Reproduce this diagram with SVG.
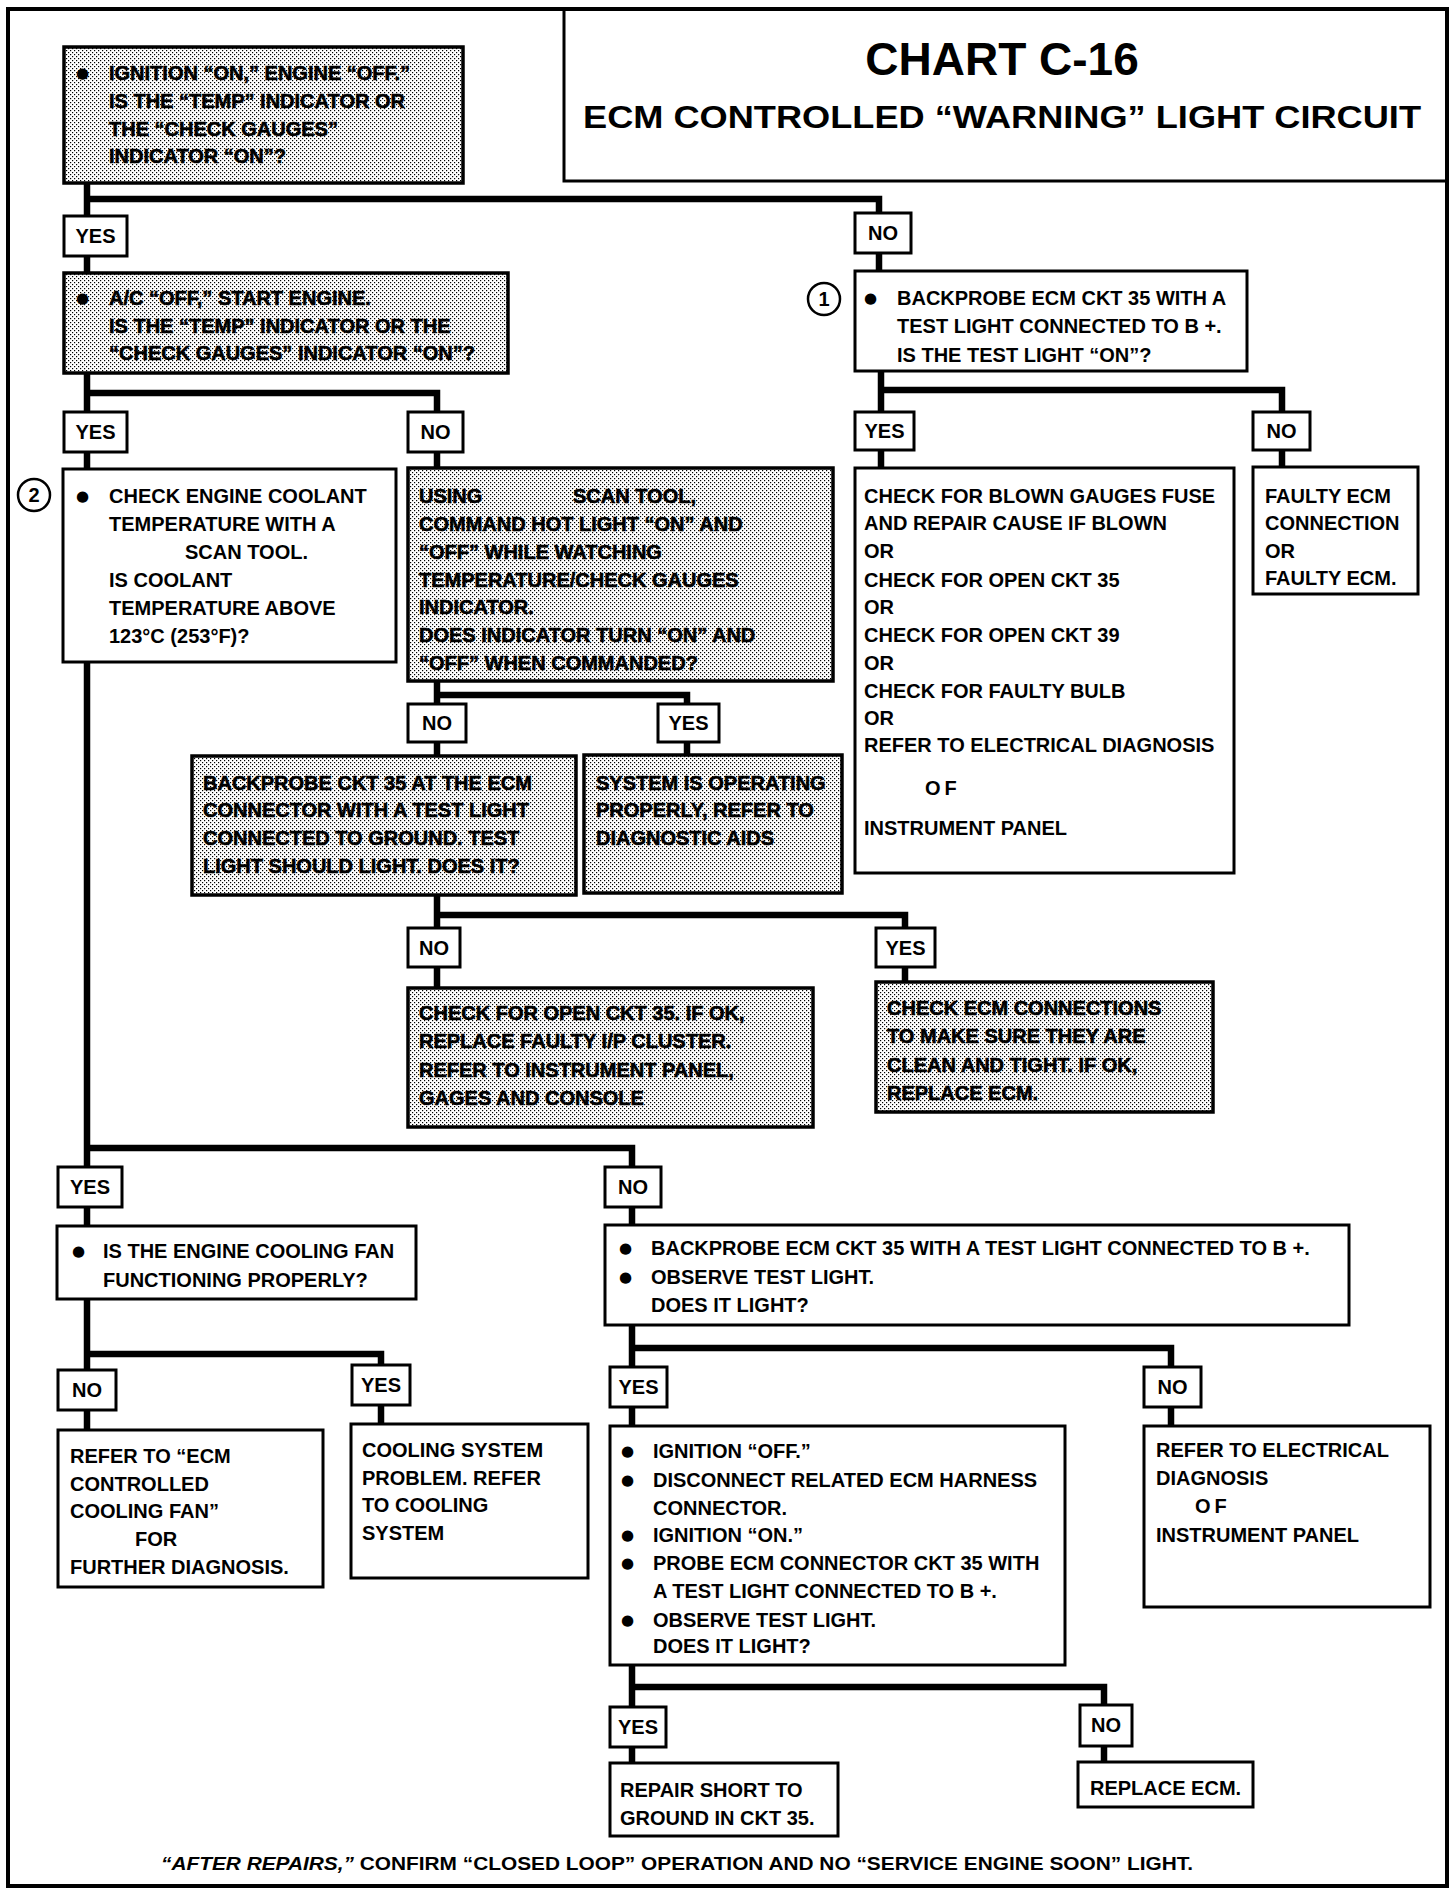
<svg xmlns="http://www.w3.org/2000/svg" width="1456" height="1892" viewBox="0 0 1456 1892">
<defs>
<pattern id="dots" width="4" height="4" patternUnits="userSpaceOnUse">
<rect width="4" height="4" fill="#fff"/>
<rect x="0" y="0" width="1.2" height="1.2" fill="#000"/>
<rect x="2" y="2" width="1.2" height="1.2" fill="#000"/>
</pattern>
</defs>
<style>
.box{fill:#fff;stroke:#000;stroke-width:3}
.shade{fill:url(#dots);stroke:#000;stroke-width:3.5}
.lbl{fill:#fff;stroke:#000;stroke-width:3}
.t{font-family:"Liberation Sans",Arial,sans-serif;font-weight:bold;font-size:20px;fill:#000}
.ts{font-family:"Liberation Sans",Arial,sans-serif;font-weight:bold;font-size:20px;fill:#000;stroke:#000;stroke-width:0.6}
.b{font-family:"DejaVu Sans",sans-serif;font-size:15px;fill:#000}
.lt{font-family:"Liberation Sans",Arial,sans-serif;font-weight:bold;font-size:20px;fill:#000;text-anchor:middle}
.conn{fill:none;stroke:#000;stroke-width:6.5;stroke-linejoin:miter;stroke-linecap:square}
.circ{fill:#fff;stroke:#000;stroke-width:2.5}
</style>
<rect width="1456" height="1892" fill="#fff"/>
<g id="frame">
<rect x="8" y="9" width="1439" height="1877" fill="none" stroke="#000" stroke-width="4"/>
</g>
<g id="title">
<path d="M564,9 V181 H1447" fill="none" stroke="#000" stroke-width="3"/>
<text x="1002" y="75" text-anchor="middle" font-family="Liberation Sans, Arial, sans-serif" font-weight="bold" font-size="46">CHART C-16</text>
<text x="1002" y="128" text-anchor="middle" font-family="Liberation Sans, Arial, sans-serif" font-weight="bold" font-size="31" textLength="838" lengthAdjust="spacingAndGlyphs">ECM CONTROLLED “WARNING” LIGHT CIRCUIT</text>
</g>
<g id="connectors">
<path class="conn" d="M87,183 V216 M87,199 H879 V213"/>
<path class="conn" d="M87,256 V273 M879,253 V271"/>
<path class="conn" d="M87,373 V412 M87,393 H437 V412"/>
<path class="conn" d="M87,452 V469 M437,452 V468"/>
<path class="conn" d="M87,662 V1167 M87,1148 H632 V1167"/>
<path class="conn" d="M437,681 V704 M437,695 H687 V704"/>
<path class="conn" d="M437,742 V756 M687,742 V755"/>
<path class="conn" d="M437,895 V928 M437,915 H905 V928"/>
<path class="conn" d="M437,967 V988 M905,967 V982"/>
<path class="conn" d="M881,371 V412 M881,390 H1282 V412"/>
<path class="conn" d="M881,450 V468 M1282,450 V467"/>
<path class="conn" d="M87,1207 V1226 M632,1207 V1225"/>
<path class="conn" d="M87,1299 V1370 M87,1354 H381 V1365"/>
<path class="conn" d="M87,1410 V1430 M381,1405 V1424"/>
<path class="conn" d="M632,1325 V1367 M632,1348 H1171 V1367"/>
<path class="conn" d="M632,1407 V1426 M1171,1407 V1426"/>
<path class="conn" d="M632,1665 V1707 M632,1687 H1104 V1705"/>
<path class="conn" d="M632,1747 V1763 M1104,1746 V1762"/>
</g>
<g id="nodeA">
<rect class="shade" x="64" y="47" width="399" height="136"/>
<text class="b" x="76" y="78">●</text>
<text class="ts" x="109" y="80">IGNITION “ON,” ENGINE “OFF.”</text>
<text class="ts" x="109" y="108">IS THE “TEMP” INDICATOR OR</text>
<text class="ts" x="109" y="136">THE “CHECK GAUGES”</text>
<text class="ts" x="109" y="163">INDICATOR “ON”?</text>
</g>
<g id="nodeB">
<rect class="shade" x="64" y="273" width="444" height="100"/>
<text class="b" x="76" y="303">●</text>
<text class="ts" x="109" y="305">A/C “OFF,” START ENGINE.</text>
<text class="ts" x="109" y="333">IS THE “TEMP” INDICATOR OR THE</text>
<text class="ts" x="109" y="360">“CHECK GAUGES” INDICATOR “ON”?</text>
</g>
<g id="nodeC">
<circle class="circ" cx="34" cy="495" r="16"/>
<text class="lt" x="34" y="502">2</text>
<rect class="box" x="63" y="469" width="333" height="193"/>
<text class="b" x="76" y="501">●</text>
<text class="t" x="109" y="503">CHECK ENGINE COOLANT</text>
<text class="t" x="109" y="531">TEMPERATURE WITH A</text>
<text class="t" x="185" y="559">SCAN TOOL.</text>
<text class="t" x="109" y="587">IS COOLANT</text>
<text class="t" x="109" y="615">TEMPERATURE ABOVE</text>
<text class="t" x="109" y="643">123°C (253°F)?</text>
</g>
<g id="nodeD">
<rect class="shade" x="408" y="468" width="425" height="213"/>
<text class="ts" x="419" y="503">USING</text>
<text class="ts" x="573" y="503">SCAN TOOL,</text>
<text class="ts" x="419" y="531">COMMAND HOT LIGHT “ON” AND</text>
<text class="ts" x="419" y="559">“OFF” WHILE WATCHING</text>
<text class="ts" x="419" y="587">TEMPERATURE/CHECK GAUGES</text>
<text class="ts" x="419" y="614">INDICATOR.</text>
<text class="ts" x="419" y="642">DOES INDICATOR TURN “ON” AND</text>
<text class="ts" x="419" y="670">“OFF” WHEN COMMANDED?</text>
</g>
<g id="nodeE">
<rect class="shade" x="192" y="756" width="384" height="139"/>
<text class="ts" x="203" y="790">BACKPROBE CKT 35 AT THE ECM</text>
<text class="ts" x="203" y="817">CONNECTOR WITH A TEST LIGHT</text>
<text class="ts" x="203" y="845">CONNECTED TO GROUND.  TEST</text>
<text class="ts" x="203" y="873">LIGHT SHOULD LIGHT.  DOES IT?</text>
</g>
<g id="nodeF">
<rect class="shade" x="584" y="755" width="258" height="138"/>
<text class="ts" x="596" y="790">SYSTEM IS OPERATING</text>
<text class="ts" x="596" y="817">PROPERLY, REFER TO</text>
<text class="ts" x="596" y="845">DIAGNOSTIC AIDS</text>
</g>
<g id="nodeG">
<rect class="shade" x="408" y="988" width="405" height="139"/>
<text class="ts" x="419" y="1020">CHECK FOR OPEN CKT 35.  IF OK,</text>
<text class="ts" x="419" y="1048">REPLACE FAULTY I/P CLUSTER.</text>
<text class="ts" x="419" y="1077">REFER TO INSTRUMENT PANEL,</text>
<text class="ts" x="419" y="1105">GAGES AND CONSOLE</text>
</g>
<g id="nodeH">
<rect class="shade" x="876" y="982" width="337" height="130"/>
<text class="ts" x="887" y="1015">CHECK ECM CONNECTIONS</text>
<text class="ts" x="887" y="1043">TO MAKE SURE THEY ARE</text>
<text class="ts" x="887" y="1072">CLEAN AND TIGHT.  IF OK,</text>
<text class="ts" x="887" y="1100">REPLACE ECM.</text>
</g>
<g id="nodeI">
<circle class="circ" cx="824" cy="299" r="16"/>
<text class="lt" x="824" y="306">1</text>
<rect class="box" x="855" y="271" width="392" height="100"/>
<text class="b" x="864" y="303">●</text>
<text class="t" x="897" y="305">BACKPROBE ECM CKT 35 WITH A</text>
<text class="t" x="897" y="333">TEST LIGHT CONNECTED TO B +.</text>
<text class="t" x="897" y="362">IS THE TEST LIGHT “ON”?</text>
</g>
<g id="nodeJ">
<rect class="box" x="855" y="468" width="379" height="405"/>
<text class="t" x="864" y="503">CHECK FOR BLOWN GAUGES FUSE</text>
<text class="t" x="864" y="530">AND REPAIR CAUSE IF BLOWN</text>
<text class="t" x="864" y="558">OR</text>
<text class="t" x="864" y="587">CHECK FOR OPEN CKT 35</text>
<text class="t" x="864" y="614">OR</text>
<text class="t" x="864" y="642">CHECK FOR OPEN CKT 39</text>
<text class="t" x="864" y="670">OR</text>
<text class="t" x="864" y="698">CHECK FOR FAULTY BULB</text>
<text class="t" x="864" y="725">OR</text>
<text class="t" x="864" y="752">REFER TO ELECTRICAL DIAGNOSIS</text>
<text class="t" x="925" y="795" letter-spacing="4">OF</text>
<text class="t" x="864" y="835">INSTRUMENT PANEL</text>
</g>
<g id="nodeK">
<rect class="box" x="1253" y="467" width="165" height="127"/>
<text class="t" x="1265" y="503">FAULTY ECM</text>
<text class="t" x="1265" y="530">CONNECTION</text>
<text class="t" x="1265" y="558">OR</text>
<text class="t" x="1265" y="585">FAULTY ECM.</text>
</g>
<g id="nodeL">
<rect class="box" x="57" y="1226" width="359" height="73"/>
<text class="b" x="72" y="1256">●</text>
<text class="t" x="103" y="1258">IS THE ENGINE COOLING FAN</text>
<text class="t" x="103" y="1287">FUNCTIONING PROPERLY?</text>
</g>
<g id="nodeM">
<rect class="box" x="58" y="1430" width="265" height="157"/>
<text class="t" x="70" y="1463">REFER TO “ECM</text>
<text class="t" x="70" y="1491">CONTROLLED</text>
<text class="t" x="70" y="1518">COOLING FAN”</text>
<text class="t" x="135" y="1546">FOR</text>
<text class="t" x="70" y="1574">FURTHER DIAGNOSIS.</text>
</g>
<g id="nodeN">
<rect class="box" x="351" y="1424" width="237" height="154"/>
<text class="t" x="362" y="1457">COOLING SYSTEM</text>
<text class="t" x="362" y="1485">PROBLEM.  REFER</text>
<text class="t" x="362" y="1512">TO COOLING</text>
<text class="t" x="362" y="1540">SYSTEM</text>
</g>
<g id="nodeO">
<rect class="box" x="605" y="1225" width="744" height="100"/>
<text class="b" x="619" y="1253">●</text>
<text class="t" x="651" y="1255">BACKPROBE ECM CKT 35 WITH A TEST LIGHT CONNECTED TO B +.</text>
<text class="b" x="619" y="1282">●</text>
<text class="t" x="651" y="1284">OBSERVE TEST LIGHT.</text>
<text class="t" x="651" y="1312">DOES IT LIGHT?</text>
</g>
<g id="nodeP">
<rect class="box" x="610" y="1426" width="455" height="239"/>
<text class="b" x="621" y="1456">●</text>
<text class="t" x="653" y="1458">IGNITION “OFF.”</text>
<text class="b" x="621" y="1485">●</text>
<text class="t" x="653" y="1487">DISCONNECT RELATED ECM HARNESS</text>
<text class="t" x="653" y="1515">CONNECTOR.</text>
<text class="b" x="621" y="1540">●</text>
<text class="t" x="653" y="1542">IGNITION “ON.”</text>
<text class="b" x="621" y="1568">●</text>
<text class="t" x="653" y="1570">PROBE ECM CONNECTOR CKT 35 WITH</text>
<text class="t" x="653" y="1598">A TEST LIGHT CONNECTED TO B +.</text>
<text class="b" x="621" y="1625">●</text>
<text class="t" x="653" y="1627">OBSERVE TEST LIGHT.</text>
<text class="t" x="653" y="1653">DOES IT LIGHT?</text>
</g>
<g id="nodeQ">
<rect class="box" x="1144" y="1426" width="286" height="181"/>
<text class="t" x="1156" y="1457">REFER TO ELECTRICAL</text>
<text class="t" x="1156" y="1485">DIAGNOSIS</text>
<text class="t" x="1195" y="1513" letter-spacing="4">OF</text>
<text class="t" x="1156" y="1542">INSTRUMENT PANEL</text>
</g>
<g id="nodeR">
<rect class="box" x="610" y="1763" width="228" height="73"/>
<text class="t" x="620" y="1797">REPAIR SHORT TO</text>
<text class="t" x="620" y="1825">GROUND IN CKT 35.</text>
</g>
<g id="nodeS">
<rect class="box" x="1078" y="1762" width="175" height="45"/>
<text class="t" x="1090" y="1795">REPLACE ECM.</text>
</g>
<g id="labels">
<g id="lbl1"><rect class="lbl" x="64" y="216" width="63" height="40"/><text class="lt" x="95.5" y="243">YES</text></g>
<g id="lbl2"><rect class="lbl" x="855" y="213" width="56" height="40"/><text class="lt" x="883" y="240">NO</text></g>
<g id="lbl3"><rect class="lbl" x="64" y="412" width="63" height="40"/><text class="lt" x="95.5" y="439">YES</text></g>
<g id="lbl4"><rect class="lbl" x="408" y="412" width="55" height="40"/><text class="lt" x="435.5" y="439">NO</text></g>
<g id="lbl5"><rect class="lbl" x="408" y="704" width="58" height="38"/><text class="lt" x="437" y="730">NO</text></g>
<g id="lbl6"><rect class="lbl" x="658" y="704" width="61" height="38"/><text class="lt" x="688.5" y="730">YES</text></g>
<g id="lbl7"><rect class="lbl" x="408" y="928" width="52" height="39"/><text class="lt" x="434" y="955">NO</text></g>
<g id="lbl8"><rect class="lbl" x="876" y="928" width="59" height="39"/><text class="lt" x="905.5" y="955">YES</text></g>
<g id="lbl9"><rect class="lbl" x="855" y="412" width="59" height="38"/><text class="lt" x="884.5" y="438">YES</text></g>
<g id="lbl10"><rect class="lbl" x="1253" y="412" width="57" height="38"/><text class="lt" x="1281.5" y="438">NO</text></g>
<g id="lbl11"><rect class="lbl" x="58" y="1167" width="64" height="40"/><text class="lt" x="90" y="1194">YES</text></g>
<g id="lbl12"><rect class="lbl" x="605" y="1167" width="56" height="40"/><text class="lt" x="633" y="1194">NO</text></g>
<g id="lbl13"><rect class="lbl" x="58" y="1370" width="58" height="40"/><text class="lt" x="87" y="1397">NO</text></g>
<g id="lbl14"><rect class="lbl" x="352" y="1365" width="58" height="40"/><text class="lt" x="381" y="1392">YES</text></g>
<g id="lbl15"><rect class="lbl" x="610" y="1367" width="57" height="40"/><text class="lt" x="638.5" y="1394">YES</text></g>
<g id="lbl16"><rect class="lbl" x="1144" y="1367" width="57" height="40"/><text class="lt" x="1172.5" y="1394">NO</text></g>
<g id="lbl17"><rect class="lbl" x="610" y="1707" width="56" height="40"/><text class="lt" x="638" y="1734">YES</text></g>
<g id="lbl18"><rect class="lbl" x="1080" y="1705" width="52" height="41"/><text class="lt" x="1106" y="1732">NO</text></g>
</g>
<g id="footer">
<text x="677" y="1870" text-anchor="middle" font-family="Liberation Sans, Arial, sans-serif" font-weight="bold" font-size="19" textLength="1032" lengthAdjust="spacingAndGlyphs"><tspan font-style="italic">“AFTER REPAIRS,”</tspan> CONFIRM “CLOSED LOOP” OPERATION AND NO “SERVICE ENGINE SOON” LIGHT.</text>
</g>
</svg>
